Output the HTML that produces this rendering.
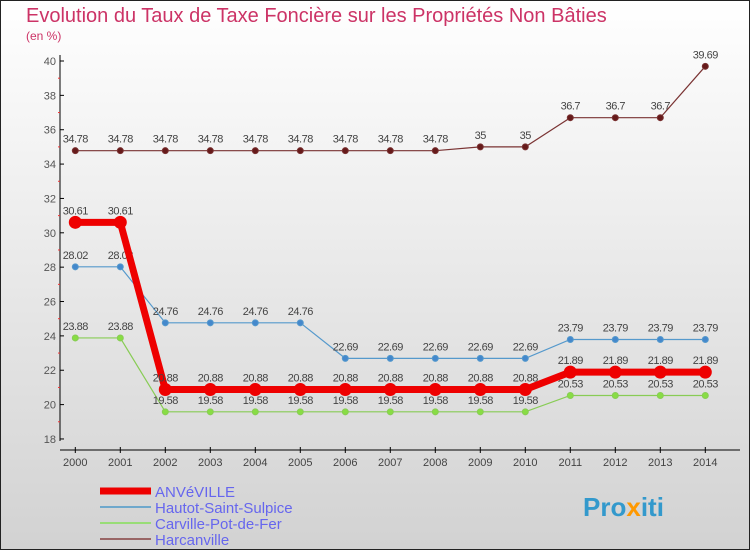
<!DOCTYPE html>
<html><head><meta charset="utf-8"><style>
body{margin:0;width:750px;height:550px;overflow:hidden;font-family:"Liberation Sans",sans-serif}
</style></head><body>
<svg width="750" height="550" xmlns="http://www.w3.org/2000/svg" font-family="Liberation Sans, sans-serif">
<defs><linearGradient id="bg" x1="0" y1="0" x2="0" y2="1"><stop offset="0" stop-color="#ffffff"/><stop offset="1" stop-color="#d2d2d2"/></linearGradient></defs>
<rect x="0.5" y="0.5" width="749" height="549" fill="url(#bg)" stroke="#222"/>
<text x="26" y="22" font-size="20" fill="#cc3366">Evolution du Taux de Taxe Foncière sur les Propriétés Non Bâties</text>
<text x="26" y="40" font-size="12" fill="#cc3366">(en %)</text>
<g id="axes"></g><g id="series"></g>
<g>
<line x1="100" y1="491" x2="151" y2="491" stroke="#ee0000" stroke-width="7"/>
<line x1="100" y1="507" x2="151" y2="507" stroke="#6fa8cc" stroke-width="2"/>
<line x1="100" y1="523" x2="151" y2="523" stroke="#99dd77" stroke-width="2"/>
<line x1="100" y1="539" x2="151" y2="539" stroke="#996666" stroke-width="2"/>
<g font-size="15" fill="#6666ee">
<text x="155" y="497">ANVéVILLE</text>
<text x="155" y="513">Hautot-Saint-Sulpice</text>
<text x="155" y="529">Carville-Pot-de-Fer</text>
<text x="155" y="545">Harcanville</text>
</g></g>
<text x="583" y="516" font-size="26" font-weight="bold" fill="#3399cc">Pro<tspan fill="#ff9900">x</tspan>iti</text>
</svg>
<script>
const years=[2000,2001,2002,2003,2004,2005,2006,2007,2008,2009,2010,2011,2012,2013,2014];
const yTicks=[18,20,22,24,26,28,30,32,34,36,38,40];
const anveville=[30.61,30.61,20.88,20.88,20.88,20.88,20.88,20.88,20.88,20.88,20.88,21.89,21.89,21.89,21.89];
const hautot=[28.02,28.02,24.76,24.76,24.76,24.76,22.69,22.69,22.69,22.69,22.69,23.79,23.79,23.79,23.79];
const carville=[23.88,23.88,19.58,19.58,19.58,19.58,19.58,19.58,19.58,19.58,19.58,20.53,20.53,20.53,20.53];
const harcanville=[34.78,34.78,34.78,34.78,34.78,34.78,34.78,34.78,34.78,35,35,36.7,36.7,36.7,39.69];
const NS="http://www.w3.org/2000/svg";
const X=i=>75.3+i*45;
const Y=v=>61+(40-v)*17.18;
function mk(t,a,p){const e=document.createElementNS(NS,t);for(const k in a)e.setAttribute(k,a[k]);p.appendChild(e);return e;}
const ax=document.getElementById('axes');
const yl=mk('line',{x1:60,y1:55,x2:60,y2:441,stroke:'#000'},ax);


const xl=mk('line',{x1:60,y1:450,x2:740,y2:450,stroke:'#000'},ax);


yTicks.forEach(v=>{
 mk('line',{x1:60,y1:Y(v),x2:64,y2:Y(v),stroke:'#000'},ax);
 if(v<40) mk('line',{x1:58,y1:Y(v+1),x2:60,y2:Y(v+1),stroke:'#e33'},ax);
 const t=mk('text',{x:56,y:Y(v)+4,'font-size':11,fill:'#555','text-anchor':'end'},ax);t.textContent=v;
 
 
});
years.forEach((yr,i)=>{
 mk('line',{x1:X(i),y1:447,x2:X(i),y2:453,stroke:'#000'},ax);
 const t=mk('text',{x:X(i),y:466,'font-size':11,fill:'#444','text-anchor':'middle'},ax);t.textContent=yr;
 
 
});
const sg=document.getElementById('series');
function series(data,name,color,w,r,dot,lbl){
 const g=mk('g',{},sg);
 
 
 mk('polyline',{points:data.map((v,i)=>X(i)+','+Y(v)).join(' '),fill:'none',stroke:color,'stroke-width':w},g);
 data.forEach((v,i)=>{
  const c=mk('circle',{cx:X(i),cy:Y(v),r:r,fill:dot,stroke:color,'stroke-width':1},g);
  
  
  const t=mk('text',{x:X(i),y:Y(v)-8,'font-size':11,fill:lbl,'text-anchor':'middle','letter-spacing':'-0.5'},g);
  t.textContent=String(v).replace('.','.');
 });
}
series(harcanville,'series-harcanville','#7a3333',1.2,3,'#661a1a','#444');
series(carville,'series-carville','#88cc55',1.2,3,'#88dd44','#444');
series(hautot,'series-hautot','#5599cc',1.2,3,'#4488cc','#444');
series(anveville,'series-anveville','#ee0000',7,6,'#ee0000','#444');
</script>
</body></html>
